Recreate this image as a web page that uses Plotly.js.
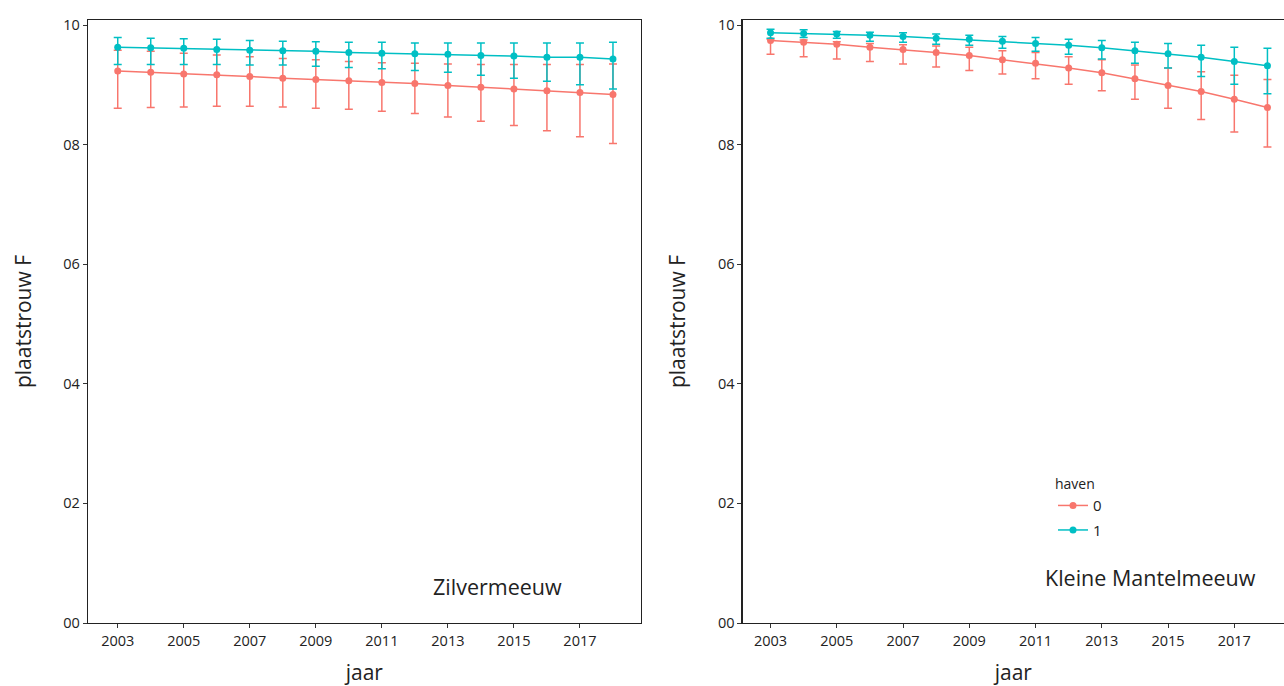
<!DOCTYPE html>
<html>
<head>
<meta charset="utf-8">
<script src="https://cdn.plot.ly/plotly-3.0.1.min.js"></script>
<style>html,body{margin:0;padding:0;background:#fff;overflow:hidden}#chart{width:1284px;height:686px}</style>
</head>
<body>
<div id="chart"></div>
<script>
const years = [2003,2004,2005,2006,2007,2008,2009,2010,2011,2012,2013,2014,2015,2016,2017,2018];
const xTicks = [2003,2005,2007,2009,2011,2013,2015,2017];
const yTickVals = [0,0.2,0.4,0.6,0.8,1.0];
const yTickText = ["00","02","04","06","08","10"];

// Zilvermeeuw
const zm0 = [0.923,0.921,0.918,0.917,0.914,0.911,0.909,0.907,0.904,0.902,0.899,0.896,0.893,0.890,0.887,0.884];
const zm0Hi = [0.958,0.956,0.953,0.950,0.947,0.944,0.942,0.939,0.937,0.936,0.935,0.934,0.934,0.934,0.934,0.935];
const zm0Lo = [0.861,0.862,0.863,0.864,0.864,0.863,0.861,0.859,0.856,0.852,0.846,0.839,0.832,0.823,0.813,0.802];
const zm1 = [0.963,0.962,0.961,0.959,0.958,0.957,0.956,0.954,0.953,0.952,0.951,0.949,0.948,0.946,0.946,0.943];
const zm1Hi = [0.979,0.978,0.977,0.976,0.974,0.973,0.972,0.971,0.971,0.970,0.970,0.970,0.970,0.970,0.970,0.971];
const zm1Lo = [0.934,0.934,0.934,0.934,0.933,0.933,0.931,0.929,0.927,0.924,0.921,0.916,0.911,0.906,0.900,0.893];

// Kleine Mantelmeeuw
const km0 = [0.974,0.971,0.968,0.963,0.959,0.954,0.949,0.942,0.936,0.928,0.920,0.910,0.899,0.889,0.876,0.862];
const km0Hi = [0.976,0.975,0.972,0.969,0.967,0.965,0.963,0.957,0.954,0.947,0.942,0.933,0.928,0.922,0.916,0.909];
const km0Lo = [0.951,0.947,0.943,0.939,0.935,0.930,0.924,0.918,0.910,0.901,0.890,0.876,0.861,0.842,0.821,0.796];
const km1 = [0.987,0.986,0.985,0.983,0.981,0.978,0.976,0.973,0.969,0.966,0.962,0.957,0.952,0.946,0.939,0.932];
const km1Hi = [0.993,0.992,0.989,0.988,0.987,0.985,0.983,0.981,0.979,0.976,0.974,0.971,0.969,0.966,0.963,0.961];
const km1Lo = [0.978,0.979,0.978,0.973,0.971,0.968,0.966,0.961,0.956,0.951,0.943,0.936,0.928,0.914,0.901,0.885];

const RED = '#F8766D', CYAN = '#00BFC4';
const FONT = 'Open Sans, Noto Sans, sans-serif';

function tr(y, hi, lo, color, name, xa, ya, show) {
  return {
    x: years, y: y, type: 'scatter', mode: 'lines+markers', name: name,
    xaxis: xa, yaxis: ya, showlegend: show, legendgroup: name,
    line: {color: color, width: 1.5},
    marker: {color: color, size: 7},
    error_y: {type: 'data', symmetric: false,
      array: hi.map((h, i) => h - y[i]),
      arrayminus: lo.map((l, i) => y[i] - l),
      color: color, thickness: 1.5, width: 4},
    hoverinfo: 'x+y'
  };
}

const data = [
  tr(zm0, zm0Hi, zm0Lo, RED, '0', 'x', 'y', false),
  tr(zm1, zm1Hi, zm1Lo, CYAN, '1', 'x', 'y', false),
  tr(km0, km0Hi, km0Lo, RED, '0', 'x2', 'y2', true),
  tr(km1, km1Hi, km1Lo, CYAN, '1', 'x2', 'y2', true)
];

const W = 1284, H = 686;
const axX = {
  tickvals: xTicks, ticks: 'outside', ticklen: 4, tickcolor: '#333',
  showline: true, linecolor: '#222', linewidth: 1.3, showgrid: false, zeroline: false,
  tickfont: {family: FONT, size: 14.5, color: '#222'},
  title: {text: 'jaar', font: {family: FONT, size: 21, color: '#222'}, standoff: 20}
};
const axY = {
  range: [0, 1.0084], tickvals: yTickVals, ticktext: yTickText,
  ticks: 'outside', ticklen: 4, tickcolor: '#333',
  showline: true, linecolor: '#222', linewidth: 1.3, showgrid: false, zeroline: false,
  tickfont: {family: FONT, size: 14.5, color: '#222'},
  title: {text: 'plaatstrouw F', font: {family: FONT, size: 21, color: '#222'}, standoff: 26}
};

const layout = {
  width: W, height: H,
  margin: {l: 0, r: 0, t: 0, b: 0},
  paper_bgcolor: '#fff', plot_bgcolor: '#fff',
  font: {family: FONT, color: '#222'},
  xaxis: Object.assign({}, axX, {domain: [88/W, 640.7/W], range: [2002.1, 2018.84], mirror: true, anchor: 'y'}),
  yaxis: Object.assign({}, axY, {domain: [63/H, 666/H], mirror: true, anchor: 'x'}),
  xaxis2: Object.assign({}, axX, {domain: [742.7/W, 1], range: [2002.16, 2018.5], mirror: true, anchor: 'y2'}),
  yaxis2: Object.assign({}, axY, {domain: [63/H, 666/H], mirror: false, anchor: 'x2'}),
  legend: {
    x: 1053/W, y: (686-471)/H, xanchor: 'left', yanchor: 'top',
    title: {text: 'haven', font: {family: FONT, size: 14, color: '#222'}},
    font: {family: FONT, size: 15, color: '#222'},
    bgcolor: 'rgba(0,0,0,0)', itemwidth: 30, tracegroupgap: 2
  },
  annotations: [
    {text: 'Zilvermeeuw', xref: 'paper', yref: 'paper', x: 497/W, y: (686-586)/H,
     xanchor: 'center', yanchor: 'middle', showarrow: false,
     font: {family: FONT, size: 21.5, color: '#222'}},
    {text: 'Kleine Mantelmeeuw', xref: 'paper', yref: 'paper', x: 1150/W, y: (686-577)/H,
     xanchor: 'center', yanchor: 'middle', showarrow: false,
     font: {family: FONT, size: 21.5, color: '#222'}}
  ]
};

Plotly.newPlot('chart', data, layout, {displayModeBar: false, staticPlot: true});
</script>
</body>
</html>
